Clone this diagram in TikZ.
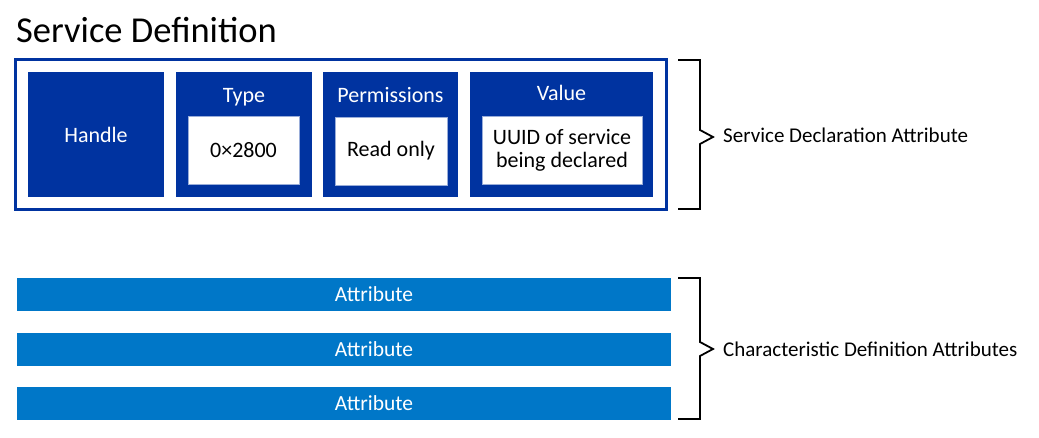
\documentclass[tikz,border=0pt]{standalone}
\usepackage{fontspec}
\setmainfont{Carlito}
\usepackage{xcolor}
\usetikzlibrary{positioning}
\definecolor{servblue}{RGB}{0,51,160}
\definecolor{attrblue}{RGB}{0,119,200}

\begin{document}
\begin{tikzpicture}[x=1pt,y=-1pt,
servicenode/.style={rectangle, draw=servblue, line width=3pt, fill=white, minimum width=651pt, minimum height=150pt, inner sep=0pt},
fieldnode/.style={rectangle, fill=servblue, minimum height=125pt, inner sep=0pt, text=white, font=\fontsize{22}{25}\selectfont},
contentnode/.style={rectangle, fill=white, draw=servblue!40, thin, minimum height=68pt, inner sep=0pt, align=center, font=\fontsize{22}{23}\selectfont},
headnode/.style={anchor=base, text=white, inner sep=0pt, font=\fontsize{22}{25}\selectfont},
attrnode/.style={rectangle, fill=attrblue, minimum width=654pt, minimum height=33pt, inner sep=0pt},
attrtext/.style={anchor=base, text=white, inner sep=0pt, font=\fontsize{21.5}{24}\selectfont},
sidenode/.style={anchor=base west, inner sep=0pt, font=\fontsize{21}{24}\selectfont},
bracket/.style={draw=black, line width=1.8pt, line join=miter},
]
\useasboundingbox (0,0) rectangle (1039,437);

%Nodes
\node[anchor=base west, inner sep=0pt, font=\fontsize{36.5}{40}\selectfont] (title) at (16,42) {Service Definition};
\node[servicenode]		(service)	at (340.5,134)	{};
\node[fieldnode, minimum width=136pt]	(handle)	at (96,134.5)	{Handle};
\node[fieldnode, minimum width=136pt]	(type)		at (244,134.5)	{};
\node[fieldnode, minimum width=135pt]	(perm)		at (390.5,134.5)	{};
\node[fieldnode, minimum width=183pt]	(value)		at (561.5,134.5)	{};
\node[contentnode, minimum width=111pt]	(typeval)	at (243.5,150.5)	{0\texttimes 2800};
\node[contentnode, minimum width=112pt]	(permval)	at (391,151)	{Read only};
\node[contentnode, minimum width=160pt]	(valueval)	at (562,150.5)	{UUID of service\\being declared};
\node[headnode]		(typehead)	at (type.center |- 0,102)	{Type};
\node[headnode]		(permhead)	at (perm.center |- 0,102)	{Permissions};
\node[headnode]		(valuehead)	at (value.center |- 0,100)	{Value};

\node[attrnode]		(attr1)		at (344,294.5)	{};
\node[attrnode]		(attr2)		at (344,349)	{};
\node[attrnode]		(attr3)		at (344,403.5)	{};
\foreach \i/\y in {1/301,2/356,3/410}
  \node[attrtext]	(attrtext\i)	at (374,\y)	{Attribute};

\node[sidenode]		(decl)		at (723,142)	{Service Declaration Attribute};
\node[sidenode]		(chardef)	at (723,356)	{Characteristic Definition Attributes};

%Lines
\draw[bracket] (678,60) -- (700,60) -- (700,130) -- (713,137) -- (700,144) -- (700,209) -- (678,209);
\draw[bracket] (678,278) -- (700,278) -- (700,342) -- (713,349) -- (700,356) -- (700,419) -- (678,419);
\end{tikzpicture}
\end{document}
